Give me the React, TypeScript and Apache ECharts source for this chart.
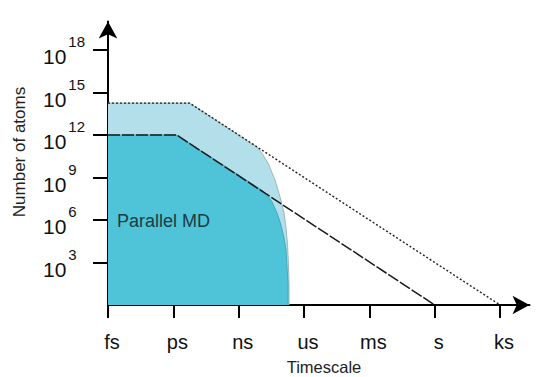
import React, { useEffect, useRef } from "react";
import * as echarts from "echarts";

const timeLabels = ["fs", "ps", "ns", "us", "ms", "s", "ks"];
const timeTicks = [0, 1, 2, 3, 4, 5, 6];
const atomExponents = [3, 6, 9, 12, 15, 18];

// Parallel MD region (dark)
const parallelMD = [
  [0, 12], [1.05, 12], [2.373, 8.05], [2.449, 7.69], [2.51, 7.27], [2.587, 6.49],
  [2.648, 5.65], [2.694, 4.73], [2.725, 3.88], [2.74, 2.68], [2.755, 1.55], [2.755, 0],
];
// Extended region (light)
const extendedMD = [
  [0, 14.25], [1.25, 14.25], [2.296, 11.08], [2.373, 10.59], [2.449, 10.02], [2.556, 8.82],
  [2.633, 7.62], [2.694, 6.49], [2.725, 5.43], [2.748, 4.23], [2.763, 2.68], [2.771, 1.41], [2.771, 0],
];
// Limit lines
const lowerLimit = [[0, 12], [1.05, 12], [5, 0]];
const upperLimit = [[0, 14.25], [1.25, 14.25], [6, 0]];

const FONT = "'Liberation Sans', Arial, sans-serif";

export default function App() {
  const ref = useRef<HTMLDivElement>(null);
  useEffect(() => {
    if (!ref.current) return;
    const chart = echarts.init(ref.current, undefined, { renderer: "svg" });
    chart.setOption({
      animation: false,
      backgroundColor: "#ffffff",
      grid: { left: 108, right: 9.5, top: 21.6, bottom: 72 },
      xAxis: {
        type: "value",
        min: 0,
        max: 6.45,
        splitLine: { show: false },
        axisLine: {
          lineStyle: { color: "#000", width: 2 },
          symbol: ["none", "arrow"],
          symbolSize: [14, 17],
        },
        axisTick: {
          show: true,
          customValues: timeTicks,
          length: 13,
          lineStyle: { color: "#000", width: 2 },
        },
        axisLabel: {
          customValues: timeTicks,
          formatter: (v: number) => timeLabels[Math.round(v)] ?? "",
          fontSize: 20,
          fontFamily: FONT,
          color: "#111",
          margin: 27,
          padding: [0, 0, 0, 8],
        },
      },
      yAxis: {
        type: "value",
        min: 0,
        max: 20,
        splitLine: { show: false },
        axisLine: {
          lineStyle: { color: "#000", width: 2 },
          symbol: ["none", "arrow"],
          symbolSize: [14, 17],
        },
        axisTick: {
          show: true,
          customValues: atomExponents,
          length: 15,
          lineStyle: { color: "#000", width: 2 },
        },
        axisLabel: {
          customValues: atomExponents,
          formatter: (v: number) => `{b|10}{s|${v}}`,
          align: "left",
          margin: 65,
          rich: {
            b: { fontSize: 21, fontFamily: FONT, color: "#111", padding: [14, 0, 0, 0] },
            s: { fontSize: 15, fontFamily: FONT, color: "#111", padding: [0, 0, 16, 2] },
          },
        },
      },
      graphic: [
        {
          type: "text",
          x: 117,
          y: 221,
          z: 10,
          style: { text: "Parallel MD", fontSize: 18, fontFamily: FONT, fill: "#1b3c45", align: "left", verticalAlign: "middle" },
        },
        {
          type: "text",
          x: 324,
          y: 367,
          style: { text: "Timescale", fontSize: 16.5, fontFamily: FONT, fill: "#222", align: "center", verticalAlign: "middle" },
        },
        {
          type: "text",
          x: 19,
          y: 152,
          rotation: Math.PI / 2,
          style: { text: "Number of atoms", fontSize: 17, fontFamily: FONT, fill: "#222", align: "center", verticalAlign: "middle" },
        },
      ],
      series: [
        {
          type: "line",
          data: extendedMD,
          symbol: "none",
          z: 1,
          lineStyle: { color: "#8fa9ae", width: 0.8 },
          areaStyle: { color: "#b2dfe9", opacity: 1 },
        },
        {
          type: "line",
          data: parallelMD,
          symbol: "none",
          z: 2,
          lineStyle: { color: "#3a9fae", width: 0.8 },
          areaStyle: { color: "#4fc4d8", opacity: 1 },
        },
        {
          type: "line",
          data: upperLimit,
          symbol: "none",
          z: 3,
          lineStyle: { color: "#222", width: 1.4, type: [2, 2] },
        },
        {
          type: "line",
          data: lowerLimit,
          symbol: "none",
          z: 3,
          lineStyle: { color: "#1a1a1a", width: 1.5, type: [12, 2] },
        },
      ],
    });
    return () => chart.dispose();
  }, []);
  return (
    <div
      ref={ref}
      style={{ position: "fixed", left: 0, top: 0, width: 539, height: 377, background: "#fff" }}
    />
  );
}
